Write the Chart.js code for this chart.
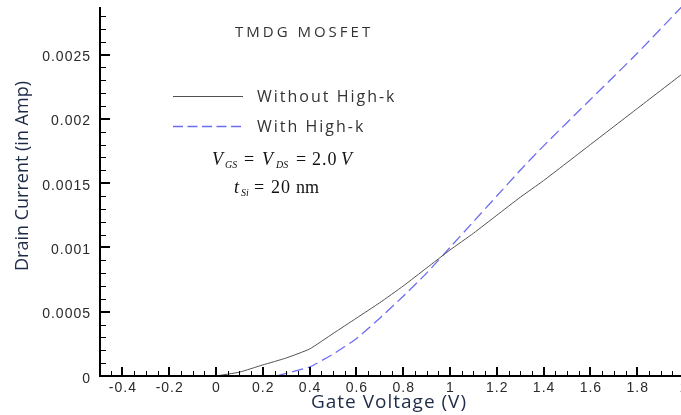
<!DOCTYPE html>
<html>
<head>
<meta charset="utf-8">
<script src="https://cdn.jsdelivr.net/npm/chart.js@4.4.1/dist/chart.umd.min.js"></script>
<style>
html,body{margin:0;padding:0;overflow:hidden;background:#fff;width:681px;height:415px;}
canvas{display:block;}
</style>
</head>
<body>
<canvas id="c" width="684" height="415"></canvas>
<script>
// Data
const xWithout = [0, 0.1, 0.2, 0.3, 0.4, 0.5, 0.6, 0.7, 0.8, 0.9, 1.0, 1.1, 1.2, 1.3, 1.4, 1.6, 1.8, 2.0];
const yWithout = [0, 0.00003, 0.000086, 0.00014, 0.00021, 0.00033, 0.00045, 0.00057, 0.0007, 0.00084, 0.00098, 0.00111, 0.00125, 0.00139, 0.00152, 0.0018, 0.00208, 0.00236];
const xWith = [0.26, 0.3, 0.4, 0.5, 0.6, 0.7, 0.8, 0.9, 1.0, 1.1, 1.2, 1.3, 1.4, 1.6, 1.8, 2.0];
const yWith = [0, 0.00002, 0.00007, 0.00017, 0.00029, 0.00045, 0.00062, 0.0008, 0.001, 0.0012, 0.0014, 0.0016, 0.00179, 0.00215, 0.00251, 0.00289];
const xTicks = [-0.4, -0.2, 0, 0.2, 0.4, 0.6, 0.8, 1, 1.2, 1.4, 1.6, 1.8, 2];
const yTicks = [0, 0.0005, 0.001, 0.0015, 0.002, 0.0025];
const xTickLabels = ['-0.4', '-0.2', '0', '0.2', '0.4', '0.6', '0.8', '1', '1.2', '1.4', '1.6', '1.8', '2'];
const yTickLabels = ['0', '0.0005', '0.001', '0.0015', '0.002', '0.0025'];
const seriesLabels = ['Without High-k', 'With High-k'];
const plotTitle = 'TMDG MOSFET';
const xTitle = 'Gate Voltage (V)';
const yTitle = 'Drain Current (in Amp)';

const toPts = (xs, ys) => xs.map((x, i) => ({x: x, y: ys[i]}));

const decor = {
  id: 'decor',
  afterDraw(chart) {
    const ctx = chart.ctx;
    const xs = chart.scales.x, ys = chart.scales.y;
    const ca = chart.chartArea;
    const L = 100, B = 376;
    ctx.save();
    ctx.strokeStyle = '#000';
    // axis lines
    ctx.lineWidth = 2;
    ctx.beginPath();
    ctx.moveTo(L, ca.top);
    ctx.lineTo(L, B + 1);
    ctx.moveTo(L - 1, B);
    ctx.lineTo(ca.right + 2, B);
    ctx.stroke();
    // x ticks (inside)
    for (let i = -9; i <= 40; i++) {
      const v = i * 0.05;
      const px = Math.round(xs.getPixelForValue(v));
      const major = (i % 4 === 0);
      ctx.lineWidth = major ? 2 : 1;
      const ox = major ? 0 : 0.5;
      ctx.beginPath();
      ctx.moveTo(px + ox, B);
      ctx.lineTo(px + ox, B - (major ? 9 : 5));
      ctx.stroke();
    }
    // y ticks (inside)
    for (let i = 1; i <= 28; i++) {
      const v = i * 0.0001;
      const py = Math.round(ys.getPixelForValue(v));
      if (py < ca.top) continue;
      const major = i % 5 === 0;
      ctx.lineWidth = major ? 2 : 1;
      const oy = major ? 0 : 0.5;
      ctx.beginPath();
      ctx.moveTo(L, py + oy);
      ctx.lineTo(L + (major ? 10 : 6), py + oy);
      ctx.stroke();
    }
    // tick labels
    ctx.fillStyle = '#2a2a2a';
    ctx.font = '14px "Liberation Sans"';
    ctx.letterSpacing = '1px';
    ctx.textBaseline = 'alphabetic';
    ctx.textAlign = 'center';
    xTicks.forEach((v, i) => {
      ctx.fillText(xTickLabels[i], xs.getPixelForValue(v) + 0.5, 392);
    });
    ctx.textAlign = 'right';
    yTicks.forEach((v, i) => {
      ctx.fillText(yTickLabels[i], 91, ys.getPixelForValue(v) + 6.5);
    });

    // axis titles
    ctx.fillStyle = '#1e2b47';
    ctx.font = '19px "Open Sans"';
    ctx.letterSpacing = '1px';
    ctx.textAlign = 'center';
    ctx.textBaseline = 'alphabetic';
    ctx.fillText(xTitle, 389, 408);
    ctx.save();
    ctx.translate(28, 176);
    ctx.rotate(-Math.PI / 2);
    ctx.font = '18px "Open Sans"';
    ctx.letterSpacing = '0px';
    ctx.fillText(yTitle, 0, 0);
    ctx.restore();

    // plot title
    ctx.fillStyle = '#333';
    ctx.textAlign = 'left';
    ctx.font = '15px "Open Sans"';
    ctx.letterSpacing = '3px';
    ctx.fillText(plotTitle, 235, 37);

    // legend
    const ds = chart.data.datasets;
    const rows = [96, 126];
    ds.forEach((d, i) => {
      ctx.save();
      ctx.strokeStyle = d.borderColor;
      ctx.lineWidth = d.borderWidth;
      ctx.setLineDash(d.borderDash ? [10, 4.5] : []);
      ctx.beginPath();
      ctx.moveTo(173, rows[i] + 0.5);
      ctx.lineTo(243, rows[i] + 0.5);
      ctx.stroke();
      ctx.restore();
      ctx.fillStyle = '#333';
      ctx.font = '16px "Open Sans"';
      ctx.letterSpacing = '2px';
      ctx.fillText(d.label, 257, rows[i] + 5.5);
    });
    ctx.letterSpacing = '0px';

    // formula lines
    const serif = '"Liberation Serif"';
    const it = s => 'italic ' + s + 'px ' + serif;
    const rm = s => s + 'px ' + serif;
    ctx.fillStyle = '#111';
    const piece = (t, font, x, y) => { ctx.font = font; ctx.fillText(t, x, y); };
    let b = 165;
    piece('V', it(18), 212, b);
    piece('GS', it(10), 225, b + 3);
    piece('=', rm(18), 244, b);
    piece('V', it(18), 262, b);
    piece('DS', it(10), 276, b + 3);
    piece('=', rm(18), 296, b);
    ctx.letterSpacing = '1px';
    piece('2.0', rm(18), 312, b);
    ctx.letterSpacing = '0px';
    piece('V', it(18), 341, b);
    b = 193;
    piece('t', it(18), 234, b);
    piece('Si', it(10), 241, b + 3);
    piece('=', rm(18), 254, b);
    ctx.letterSpacing = '1px';
    piece('20', rm(18), 271, b);
    ctx.letterSpacing = '0px';
    piece('nm', rm(18), 296, b);
    ctx.restore();
  }
};

new Chart(document.getElementById('c'), {
  type: 'scatter',
  data: {
    datasets: [
      {
        label: seriesLabels[0],
        data: toPts(xWithout, yWithout),
        showLine: true,
        borderColor: '#505050',
        borderWidth: 1,
        pointRadius: 0,
        tension: 0.15,
        fill: false
      },
      {
        label: seriesLabels[1],
        data: toPts(xWith, yWith),
        showLine: true,
        borderColor: '#6c6cf2',
        borderWidth: 1.3,
        borderDash: [11, 5],
        pointRadius: 0,
        tension: 0.15,
        fill: false
      }
    ]
  },
  options: {
    responsive: false,
    animation: false,
    events: [],
    layout: { padding: { top: 7, right: 0, left: 0, bottom: 0 } },
    plugins: { legend: { display: false }, tooltip: { enabled: false }, title: { display: false } },
    scales: {
      x: {
        type: 'linear',
        min: -0.5,
        max: 2,
        afterBuildTicks: s => { s.ticks = xTicks.map(v => ({ value: v })); },
        afterFit: s => { s.height = 39; },
        grid: { display: false, drawTicks: false },
        border: { display: false },
        ticks: { display: false }
      },
      y: {
        type: 'linear',
        min: 0,
        max: 0.00287,
        afterBuildTicks: s => { s.ticks = yTicks.map(v => ({ value: v })); },
        afterFit: s => { s.width = 99; },
        grid: { display: false, drawTicks: false },
        border: { display: false },
        ticks: { display: false }
      }
    }
  },
  plugins: [decor]
});
</script>
</body>
</html>
